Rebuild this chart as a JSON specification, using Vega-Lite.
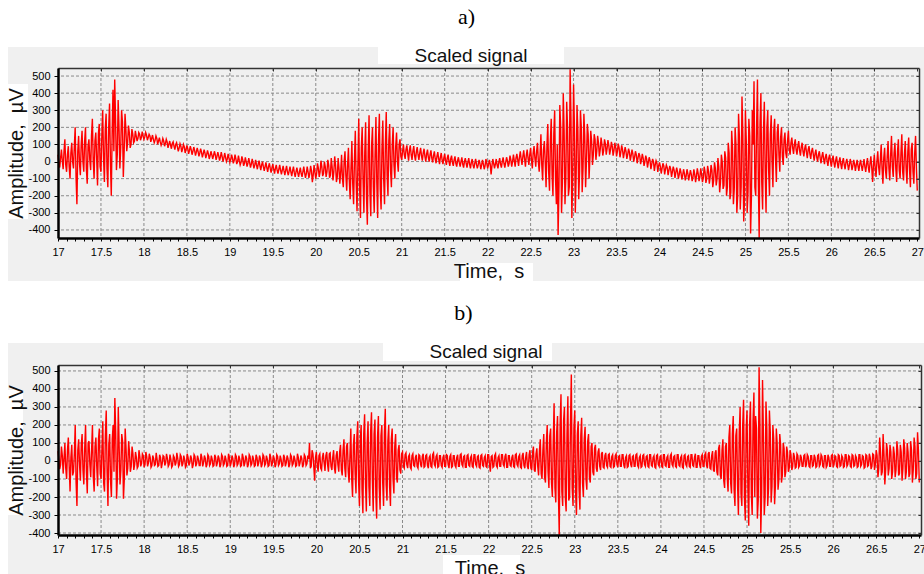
{
"$schema": "https://vega.github.io/schema/vega-lite/v6.json",
"background": "white",
"padding": {"left": 6, "top": 5, "right": 0, "bottom": 0},
"spacing": 20,
"config": {"font": "Liberation Sans", "view": {"stroke": null}, "axis": {"labelFont": "Liberation Sans", "labelFontSize": 11, "labelColor": "#000", "tickColor": "#000", "domainColor": "#000", "titleFont": "Liberation Sans", "titleFontSize": 20, "titleFontWeight": "normal", "titleColor": "#111", "grid": false}},
"data": {"values": "t,a,b\n17.00,40,55\n17.02,-35,-45\n17.04,70,80\n17.06,-45,-70\n17.08,130,100\n17.10,-60,-100\n17.12,90,130\n17.14,-100,-170\n17.16,110,90\n17.18,-40,-60\n17.20,200,200\n17.22,-250,-250\n17.24,150,120\n17.26,-80,-110\n17.28,180,150\n17.30,-60,-130\n17.32,200,200\n17.34,-130,-180\n17.36,130,110\n17.38,-50,-90\n17.40,250,200\n17.42,-100,-170\n17.44,170,130\n17.46,-140,-140\n17.48,220,180\n17.50,-60,-100\n17.52,300,220\n17.54,-120,-170\n17.56,280,280\n17.58,-150,-250\n17.60,340,150\n17.62,-200,-200\n17.64,420,200\n17.66,480,350\n17.68,-50,-210\n17.70,360,300\n17.72,-40,-130\n17.74,300,150\n17.76,-90,-210\n17.78,280,180\n17.80,60,-80\n17.82,210,110\n17.84,80,-60\n17.86,190,80\n17.88,110,-50\n17.90,180,50\n17.92,120,-40\n17.94,170,60\n17.96,125,-30\n17.98,175,40\n18.00,130,-35\n18.02,170,50\n18.04,125,-30\n18.06,160,40\n18.08,115,-35\n18.10,155,30\n18.12,110,-25\n18.14,150,45\n18.16,100,-30\n18.18,140,35\n18.20,95,-40\n18.22,135,30\n18.24,90,-25\n18.26,130,40\n18.28,80,-30\n18.30,120,35\n18.32,75,-35\n18.34,115,30\n18.36,70,-25\n18.38,110,45\n18.40,60,-30\n18.42,105,35\n18.44,55,-30\n18.46,100,30\n18.48,50,-35\n18.50,95,40\n18.52,45,-25\n18.54,90,30\n18.56,40,-40\n18.58,85,35\n18.60,35,-30\n18.62,80,30\n18.64,30,-25\n18.66,75,40\n18.68,25,-30\n18.70,70,30\n18.72,20,-35\n18.74,65,35\n18.76,15,-25\n18.78,60,30\n18.80,15,-30\n18.82,60,35\n18.84,10,-30\n18.86,55,30\n18.88,5,-35\n18.90,55,35\n18.92,0,-25\n18.94,50,30\n18.96,0,-30\n18.98,45,40\n19.00,-5,-30\n19.02,40,30\n19.04,-10,-35\n19.06,40,35\n19.08,-15,-25\n19.10,35,30\n19.12,-20,-30\n19.14,30,40\n19.16,-25,-30\n19.18,25,30\n19.20,-30,-35\n19.22,20,35\n19.24,-35,-25\n19.26,15,30\n19.28,-40,-30\n19.30,10,35\n19.32,-45,-30\n19.34,5,30\n19.36,-50,-35\n19.38,0,35\n19.40,-55,-25\n19.42,-5,30\n19.44,-60,-30\n19.46,-10,40\n19.48,-65,-30\n19.50,-15,30\n19.52,-70,-35\n19.54,-20,35\n19.56,-70,-25\n19.58,-20,30\n19.60,-75,-30\n19.62,-25,35\n19.64,-80,-30\n19.66,-25,30\n19.68,-80,-35\n19.70,-30,35\n19.72,-85,-25\n19.74,-30,30\n19.76,-90,-30\n19.78,-35,40\n19.80,-90,-30\n19.82,-35,30\n19.84,-90,-35\n19.86,-30,35\n19.88,-95,-25\n19.90,-30,30\n19.92,-95,100\n19.94,-25,-30\n19.96,-120,40\n19.98,-20,-110\n20.00,-100,50\n20.02,-10,-60\n20.04,-90,40\n20.06,5,-50\n20.08,-85,45\n20.10,0,-55\n20.12,-90,50\n20.14,10,-60\n20.16,-95,45\n20.18,20,-50\n20.20,-110,60\n20.22,30,-70\n20.24,-120,55\n20.26,20,-60\n20.28,-130,90\n20.30,40,-80\n20.32,-150,120\n20.34,60,-90\n20.36,-170,100\n20.38,80,-120\n20.40,-220,180\n20.42,120,-200\n20.44,-250,150\n20.46,180,-180\n20.48,-290,220\n20.50,250,-250\n20.52,-330,200\n20.54,200,-290\n20.56,-300,260\n20.58,230,-280\n20.60,-370,220\n20.62,270,-250\n20.64,-320,270\n20.66,200,-280\n20.68,-300,230\n20.70,260,-320\n20.72,-330,250\n20.74,280,-270\n20.76,-280,200\n20.78,240,-250\n20.80,-250,290\n20.82,290,-220\n20.84,-200,200\n20.86,220,-250\n20.88,-150,180\n20.90,200,-180\n20.92,-100,150\n20.94,170,-120\n20.96,-60,90\n20.98,130,-70\n21.00,10,50\n21.02,100,-40\n21.04,15,45\n21.06,95,-40\n21.08,5,35\n21.10,95,-45\n21.12,10,40\n21.14,90,-30\n21.16,5,35\n21.18,85,-40\n21.20,10,30\n21.22,80,-35\n21.24,5,40\n21.26,75,-30\n21.28,0,35\n21.30,70,-40\n21.32,0,30\n21.34,65,-35\n21.36,-5,45\n21.38,60,-30\n21.40,-10,35\n21.42,55,-30\n21.44,-15,30\n21.46,50,-35\n21.48,-15,35\n21.50,45,-30\n21.52,-20,30\n21.54,40,-40\n21.56,-25,35\n21.58,35,-30\n21.60,-25,30\n21.62,30,-35\n21.64,-30,35\n21.66,25,-30\n21.68,-30,40\n21.70,25,-30\n21.72,-35,30\n21.74,20,-35\n21.76,-35,35\n21.78,20,-30\n21.80,-40,30\n21.82,15,-35\n21.84,-40,35\n21.86,15,-30\n21.88,-40,30\n21.90,10,-40\n21.92,-45,35\n21.94,10,-30\n21.96,-45,30\n21.98,15,-35\n22.00,-40,35\n22.02,10,-60\n22.04,-75,30\n22.06,15,-30\n22.08,-40,40\n22.10,15,-35\n22.12,-40,30\n22.14,20,-30\n22.16,-35,35\n22.18,25,-30\n22.20,-35,40\n22.22,25,-35\n22.24,-30,30\n22.26,35,-30\n22.28,-30,35\n22.30,40,-35\n22.32,-30,40\n22.34,45,-30\n22.36,-25,35\n22.38,60,-40\n22.40,-20,45\n22.42,65,-40\n22.44,-30,50\n22.46,70,-45\n22.48,-20,60\n22.50,80,-50\n22.52,-40,80\n22.54,90,-60\n22.56,-30,70\n22.58,110,-80\n22.60,-60,120\n22.62,160,-100\n22.64,-110,150\n22.66,120,-120\n22.68,-150,200\n22.70,220,-150\n22.72,-170,180\n22.74,250,-200\n22.76,-200,320\n22.78,300,-230\n22.80,-250,250\n22.82,-430,-410\n22.84,330,370\n22.86,-300,-250\n22.88,400,300\n22.90,-250,-280\n22.92,350,360\n22.94,-200,-200\n22.96,540,480\n22.98,-330,-250\n23.00,450,280\n23.02,-300,-300\n23.04,330,220\n23.06,-220,-270\n23.08,300,240\n23.10,-180,-200\n23.12,280,190\n23.14,-150,-160\n23.16,220,150\n23.18,-100,-120\n23.20,180,100\n23.22,-20,-80\n23.24,160,90\n23.26,10,-60\n23.28,150,70\n23.30,30,-50\n23.32,140,50\n23.34,35,-40\n23.36,130,45\n23.38,40,-35\n23.40,125,40\n23.42,40,-35\n23.44,115,35\n23.46,35,-30\n23.48,110,40\n23.50,30,-35\n23.52,105,30\n23.54,25,-30\n23.56,95,35\n23.58,20,-40\n23.60,85,30\n23.62,15,-30\n23.64,75,35\n23.66,5,-35\n23.68,70,30\n23.70,0,-30\n23.72,60,40\n23.74,-10,-35\n23.76,50,30\n23.78,-15,-30\n23.80,45,35\n23.82,-25,-30\n23.84,35,30\n23.86,-35,-35\n23.88,25,35\n23.90,-45,-30\n23.92,15,30\n23.94,-55,-40\n23.96,5,35\n23.98,-60,-30\n24.00,-5,30\n24.02,-70,-35\n24.04,-10,35\n24.06,-75,-30\n24.08,-20,30\n24.10,-80,-35\n24.12,-25,40\n24.14,-90,-30\n24.16,-30,30\n24.18,-95,-35\n24.20,-35,35\n24.22,-100,-30\n24.24,-40,30\n24.26,-105,-40\n24.28,-45,35\n24.30,-110,-30\n24.32,-45,30\n24.34,-110,-35\n24.36,-50,35\n24.38,-115,-30\n24.40,-45,40\n24.42,-120,-35\n24.44,-40,30\n24.46,-115,-40\n24.48,-40,35\n24.50,-120,-30\n24.52,-30,45\n24.54,-125,-40\n24.56,-25,50\n24.58,-130,-45\n24.60,-20,55\n24.62,-150,-60\n24.64,-5,60\n24.66,-140,-80\n24.68,20,90\n24.70,-180,-100\n24.72,40,120\n24.74,-160,-150\n24.76,60,100\n24.78,-200,-170\n24.80,110,200\n24.82,-220,-180\n24.84,180,250\n24.86,-250,-250\n24.88,200,180\n24.90,-300,-300\n24.92,280,300\n24.94,-280,-250\n24.96,380,340\n24.98,-350,-330\n25.00,300,280\n25.02,-300,-360\n25.04,250,330\n25.06,-420,-300\n25.08,300,380\n25.10,470,250\n25.12,-200,-320\n25.14,480,520\n25.16,-450,-400\n25.18,400,450\n25.20,-280,-300\n25.22,350,330\n25.24,-300,-250\n25.26,300,280\n25.28,-200,-230\n25.30,270,200\n25.32,-150,-240\n25.34,250,180\n25.36,-120,-160\n25.38,220,150\n25.40,-60,-120\n25.42,200,100\n25.44,-20,-90\n25.46,170,80\n25.48,20,-60\n25.50,180,60\n25.52,40,-50\n25.54,140,45\n25.56,45,-40\n25.58,130,40\n25.60,40,-35\n25.62,120,35\n25.64,35,-30\n25.66,110,30\n25.68,30,-35\n25.70,100,35\n25.72,20,-30\n25.74,90,30\n25.76,15,-30\n25.78,80,35\n25.80,5,-35\n25.82,70,30\n25.84,0,-30\n25.86,60,35\n25.88,-10,-30\n25.90,55,30\n25.92,-15,-35\n25.94,45,35\n25.96,-25,-30\n25.98,40,30\n26.00,-30,-35\n26.02,35,30\n26.04,-35,-30\n26.06,30,35\n26.08,-40,-30\n26.10,25,30\n26.12,-45,-35\n26.14,20,35\n26.16,-45,-30\n26.18,15,30\n26.20,-50,-30\n26.22,15,35\n26.24,-50,-30\n26.26,10,30\n26.28,-55,-35\n26.30,10,35\n26.32,-55,-30\n26.34,10,30\n26.36,-55,-40\n26.38,15,35\n26.40,-60,-30\n26.42,20,40\n26.44,-65,-45\n26.46,30,40\n26.48,-120,-50\n26.50,40,60\n26.52,-90,-90\n26.54,60,130\n26.56,-80,-80\n26.58,100,150\n26.60,-130,-130\n26.62,80,100\n26.64,-100,-80\n26.66,120,90\n26.68,-110,-100\n26.70,150,80\n26.72,-90,-90\n26.74,110,110\n26.76,-120,-80\n26.78,130,90\n26.80,-100,-110\n26.82,160,120\n26.84,-110,-100\n26.86,120,100\n26.88,-130,-90\n26.90,140,110\n26.92,-150,-120\n26.94,110,130\n26.96,-130,-100\n26.98,150,160\n27.00,-170,-120\n17.01,-10,10\n17.03,20,-20\n17.05,5,30\n17.07,60,15\n17.09,-20,-40\n17.11,40,60\n17.13,-30,-30\n17.15,50,20\n17.17,0,-80\n17.19,90,40\n17.21,-90,-120\n17.23,60,60\n17.25,-10,-20\n17.27,100,90\n17.29,0,-50\n17.31,120,70\n17.33,-40,-60\n17.35,90,100\n17.37,10,-20\n17.39,150,60\n17.41,0,-90\n17.43,120,80\n17.45,20,-30\n17.47,160,120\n17.49,-30,-70\n17.51,150,60\n17.53,20,-120\n17.55,190,140\n17.57,-40,-60\n17.59,200,90\n17.61,0,-110\n17.63,160,120\n17.65,60,-60\n17.67,240,160\n17.69,40,-90\n17.71,200,80\n17.73,80,-50\n17.75,230,110\n17.77,60,-100\n17.79,190,70\n17.81,110,-40\n17.83,170,50\n17.85,100,-30\n17.87,160,40\n17.89,120,-20\n17.91,150,20\n17.93,135,-30\n17.95,160,25\n17.97,140,-15\n17.99,150,30\n18.01,145,-20\n18.03,155,25\n18.05,140,-10\n18.07,150,20\n18.09,135,-25\n18.11,130,15\n18.13,125,-20\n18.15,135,10\n18.17,120,-25\n18.19,115,20\n18.21,110,-15\n18.23,120,25\n18.25,105,-10\n18.27,115,15\n18.29,100,-20\n18.31,95,10\n18.33,105,-25\n18.35,90,20\n18.37,100,-10\n18.39,85,15\n18.41,80,-20\n18.43,90,25\n18.45,75,-15\n18.47,85,10\n18.49,70,-25\n18.51,75,20\n18.53,65,-10\n18.55,70,15\n18.57,60,-20\n18.59,65,25\n18.61,55,-15\n18.63,60,10\n18.65,50,-25\n18.67,55,20\n18.69,45,-10\n18.71,50,15\n18.73,40,-20\n18.75,45,25\n18.77,35,-15\n18.79,40,10\n18.81,35,-25\n18.83,40,20\n18.85,30,-10\n18.87,35,15\n18.89,25,-20\n18.91,30,25\n18.93,20,-15\n18.95,25,10\n18.97,15,-25\n18.99,20,20\n19.01,10,-10\n19.03,20,15\n19.05,5,-20\n19.07,15,25\n19.09,0,-15\n19.11,5,10\n19.13,-5,-25\n19.15,10,20\n19.17,-10,-10\n19.19,0,15\n19.21,-10,-20\n19.23,-5,25\n19.25,-15,-15\n19.27,-10,10\n19.29,-20,-25\n19.31,-20,20\n19.33,-15,-10\n19.35,-25,15\n19.37,-20,-20\n19.39,-30,25\n19.41,-30,-15\n19.43,-35,10\n19.45,-30,-25\n19.47,-40,20\n19.49,-35,-10\n19.51,-45,15\n19.53,-40,-20\n19.55,-50,25\n19.57,-45,-15\n19.59,-50,10\n19.61,-50,-25\n19.63,-55,20\n19.65,-50,-10\n19.67,-60,15\n19.69,-55,-20\n19.71,-60,25\n19.73,-55,-15\n19.75,-65,10\n19.77,-60,-25\n19.79,-65,20\n19.81,-60,-10\n19.83,-70,15\n19.85,-60,-20\n19.87,-65,25\n19.89,-70,-15\n19.91,-60,10\n19.93,-70,-40\n19.95,-55,60\n19.97,-80,-30\n19.99,-60,20\n20.01,-70,-20\n20.03,-40,30\n20.05,-60,-40\n20.07,-30,20\n20.09,-70,-10\n20.11,-30,30\n20.13,-60,-20\n20.15,-20,40\n20.17,-80,-30\n20.19,-30,20\n20.21,-60,-40\n20.23,-20,30\n20.25,-90,-20\n20.27,-40,50\n20.29,-60,-50\n20.31,-100,60\n20.33,0,-40\n20.35,-80,80\n20.37,-20,-60\n20.39,-110,30\n20.41,-40,-100\n20.43,-130,90\n20.45,10,-70\n20.47,-120,130\n20.49,-20,-110\n20.51,-150,120\n20.53,80,-160\n20.55,-100,150\n20.57,50,-120\n20.59,-200,100\n20.61,60,-140\n20.63,-180,160\n20.65,100,-100\n20.67,-150,150\n20.69,40,-180\n20.71,-120,130\n20.73,120,-150\n20.75,-160,140\n20.77,70,-120\n20.79,-100,160\n20.81,100,-130\n20.83,-80,110\n20.85,120,-140\n20.87,-50,120\n20.89,100,-100\n20.91,-20,80\n20.93,90,-90\n20.95,0,60\n20.97,100,-50\n20.99,30,40\n21.01,60,-30\n21.03,40,35\n21.05,70,-20\n21.07,45,25\n21.09,65,-35\n21.11,40,30\n21.13,60,-25\n21.15,35,20\n21.17,55,-30\n21.19,40,35\n21.21,50,-20\n21.23,35,25\n21.25,50,-35\n21.27,30,30\n21.29,45,-25\n21.31,25,20\n21.33,40,-30\n21.35,20,35\n21.37,35,-20\n21.39,15,25\n21.41,30,-35\n21.43,15,30\n21.45,25,-25\n21.47,10,20\n21.49,20,-30\n21.51,5,35\n21.53,20,-20\n21.55,0,25\n21.57,15,-35\n21.59,-5,30\n21.61,10,-25\n21.63,-10,20\n21.65,5,-30\n21.67,-5,35\n21.69,0,-20\n21.71,-15,25\n21.73,0,-35\n21.75,-10,30\n21.77,-5,-25\n21.79,-15,20\n21.81,-5,-30\n21.83,-20,35\n21.85,-10,-20\n21.87,-15,25\n21.89,-20,-35\n21.91,-10,30\n21.93,-20,-25\n21.95,-15,20\n21.97,-25,-30\n21.99,-10,35\n22.01,-20,-20\n22.03,-15,25\n22.05,-25,-35\n22.07,-10,30\n22.09,-15,-25\n22.11,-20,20\n22.13,-5,-30\n22.15,-15,35\n22.17,0,-20\n22.19,-10,25\n22.21,-5,-35\n22.23,5,30\n22.25,-10,-25\n22.27,10,20\n22.29,0,-30\n22.31,5,35\n22.33,20,-20\n22.35,10,25\n22.37,25,-35\n22.39,15,30\n22.41,30,-25\n22.43,15,20\n22.45,35,-30\n22.47,20,35\n22.49,40,-40\n22.51,10,45\n22.53,50,-50\n22.55,20,40\n22.57,60,-30\n22.59,0,60\n22.61,40,-70\n22.63,-20,60\n22.65,70,-90\n22.67,0,100\n22.69,90,-60\n22.71,-60,140\n22.73,120,-120\n22.75,-80,100\n22.77,160,-150\n22.79,-100,160\n22.81,100,-180\n22.83,-150,200\n22.85,200,-170\n22.87,-120,220\n22.89,180,-200\n22.91,-100,150\n22.93,200,-220\n22.95,-150,200\n22.97,250,-150\n22.99,-100,180\n23.01,200,-180\n23.03,-80,150\n23.05,180,-160\n23.07,-60,140\n23.09,200,-120\n23.11,-40,120\n23.13,150,-100\n23.15,0,110\n23.17,160,-90\n23.19,20,80\n23.21,120,-60\n23.23,40,70\n23.25,130,-40\n23.27,60,50\n23.29,110,-30\n23.31,70,40\n23.33,100,-35\n23.35,65,30\n23.37,105,-25\n23.39,75,35\n23.41,95,-30\n23.43,70,25\n23.45,90,-35\n23.47,65,30\n23.49,85,-20\n23.51,60,25\n23.53,80,-30\n23.55,55,35\n23.57,70,-25\n23.59,50,20\n23.61,60,-35\n23.63,40,30\n23.65,55,-20\n23.67,35,25\n23.69,45,-30\n23.71,25,35\n23.73,40,-25\n23.75,20,20\n23.77,35,-35\n23.79,10,30\n23.81,20,-20\n23.83,0,25\n23.85,15,-30\n23.87,-5,35\n23.89,5,-25\n23.91,-15,20\n23.93,0,-35\n23.95,-20,30\n23.97,-10,-20\n23.99,-25,25\n24.01,-30,-30\n24.03,-40,35\n24.05,-25,-25\n24.07,-45,20\n24.09,-35,-35\n24.11,-50,30\n24.13,-45,-20\n24.15,-60,25\n24.17,-50,-30\n24.19,-65,35\n24.21,-60,-25\n24.23,-75,20\n24.25,-65,-35\n24.27,-80,30\n24.29,-70,-20\n24.31,-85,25\n24.33,-70,-30\n24.35,-80,35\n24.37,-75,-25\n24.39,-90,20\n24.41,-75,-35\n24.43,-85,30\n24.45,-70,-20\n24.47,-90,25\n24.49,-75,-30\n24.51,-95,35\n24.53,-60,-25\n24.55,-100,40\n24.57,-55,-40\n24.59,-90,30\n24.61,-50,-50\n24.63,-110,45\n24.65,-40,-60\n24.67,-100,70\n24.69,-30,-80\n24.71,-120,60\n24.73,0,-110\n24.75,-140,80\n24.77,20,-90\n24.79,-150,130\n24.81,50,-120\n24.83,-180,150\n24.85,80,-160\n24.87,-160,140\n24.89,100,-130\n24.91,-200,160\n24.93,140,-180\n24.95,-150,200\n24.97,160,-200\n24.99,-220,180\n25.01,120,-150\n25.03,-180,200\n25.05,150,-180\n25.07,-200,220\n25.09,100,-200\n25.11,-150,180\n25.13,200,-220\n25.15,-100,200\n25.17,220,-180\n25.19,-120,160\n25.21,180,-200\n25.23,-60,180\n25.25,200,-150\n25.27,-50,160\n25.29,160,-140\n25.31,0,120\n25.33,180,-130\n25.35,20,100\n25.37,170,-100\n25.39,40,90\n25.41,140,-80\n25.43,30,70\n25.45,130,-60\n25.47,50,50\n25.49,120,-40\n25.51,70,35\n25.53,110,-30\n25.55,80,25\n25.57,100,-35\n25.59,70,30\n25.61,90,-25\n25.63,65,20\n25.65,85,-30\n25.67,60,35\n25.69,75,-20\n25.71,55,25\n25.73,70,-35\n25.75,45,30\n25.77,60,-25\n25.79,40,20\n25.81,45,-30\n25.83,25,35\n25.85,40,-20\n25.87,20,25\n25.89,30,-35\n25.91,15,30\n25.93,25,-25\n25.95,5,20\n25.97,20,-30\n25.99,0,35\n26.01,10,-20\n26.03,-5,25\n26.05,5,-35\n26.07,-10,30\n26.09,0,-25\n26.11,-15,20\n26.13,0,-30\n26.15,-20,35\n26.17,-5,-20\n26.19,-15,25\n26.21,-20,-35\n26.23,-10,30\n26.25,-25,-25\n26.27,-15,20\n26.29,-20,-30\n26.31,-25,35\n26.33,-15,-20\n26.35,-25,25\n26.37,-20,-35\n26.39,-30,30\n26.41,-15,-25\n26.43,-30,20\n26.45,-10,-30\n26.47,-35,35\n26.49,-20,-20\n26.51,-40,30\n26.53,0,-40\n26.55,-30,50\n26.57,10,-60\n26.59,-40,40\n26.61,20,-50\n26.63,-50,60\n26.65,30,-40\n26.67,-40,50\n26.69,40,-60\n26.71,-30,40\n26.73,50,-50\n26.75,-40,60\n26.77,60,-70\n26.79,-50,50\n26.81,50,-40\n26.83,-60,70\n26.85,40,-60\n26.87,-40,50\n26.89,60,-70\n26.91,-50,60\n26.93,70,-50\n26.95,-60,80\n26.97,50,-70\n26.99,-40,60", "format": {"type": "csv", "parse": {"t": "number", "a": "number", "b": "number"}}},
"vconcat": [
{
 "width": 861, "height": 170,
 "title": {"text": "a)", "font": "Liberation Serif", "fontSize": 22, "fontWeight": "normal", "color": "#000", "anchor": "middle", "frame": "group", "dx": -22, "offset": 18},
 "resolve": {"axis": {"x": "independent", "y": "independent"}},
 "layer": [
  {"data": {"values": [{}]}, "mark": {"type": "rect", "fill": "#f0f0f0"},
   "encoding": {"x": {"datum": 16.418, "type": "quantitative", "scale": {"domain": [17, 27.02], "nice": false, "zero": false}, "axis": null}, "x2": {"datum": 27.08},
    "y": {"datum": 670, "type": "quantitative", "scale": {"domain": [-447, 547], "nice": false, "zero": false}, "axis": null}, "y2": {"datum": -698}}},
  {"data": {"values": [{}]}, "mark": {"type": "rect", "fill": "#ffffff"},
   "encoding": {"x": {"datum": 20.724, "type": "quantitative", "scale": {"domain": [17, 27.02], "nice": false, "zero": false}, "axis": null}, "x2": {"datum": 22.889},
    "y": {"datum": 670, "type": "quantitative", "scale": {"domain": [-447, 547], "nice": false, "zero": false}, "axis": null}, "y2": {"datum": 570}}},
  {"data": {"values": [{}]}, "mark": {"type": "rect", "fill": "#ffffff"},
   "encoding": {"x": {"datum": 16.418, "type": "quantitative", "scale": {"domain": [17, 27.02], "nice": false, "zero": false}, "axis": null}, "x2": {"datum": 16.651},
    "y": {"datum": 453, "type": "quantitative", "scale": {"domain": [-447, 547], "nice": false, "zero": false}, "axis": null}, "y2": {"datum": -336}}},
  {"data": {"values": [{}]}, "mark": {"type": "rect", "fill": "#ffffff"},
   "encoding": {"x": {"datum": 21.678, "type": "quantitative", "scale": {"domain": [17, 27.02], "nice": false, "zero": false}, "axis": null}, "x2": {"datum": 22.528},
    "y": {"datum": -593, "type": "quantitative", "scale": {"domain": [-447, 547], "nice": false, "zero": false}, "axis": null}, "y2": {"datum": -698}}},
  {"data": {"values": [{"g": 17.5}, {"g": 18}, {"g": 18.5}, {"g": 19}, {"g": 19.5}, {"g": 20}, {"g": 20.5}, {"g": 21}, {"g": 21.5}, {"g": 22}, {"g": 22.5}, {"g": 23}, {"g": 23.5}, {"g": 24}, {"g": 24.5}, {"g": 25}, {"g": 25.5}, {"g": 26}, {"g": 26.5}]},
   "mark": {"type": "rule", "stroke": "#8a8a8a", "strokeWidth": 1, "strokeDash": [3, 2]},
   "encoding": {"x": {"field": "g", "type": "quantitative", "scale": {"domain": [17, 27.02], "nice": false, "zero": false},
     "axis": {"orient": "top", "zindex": 1, "values": [17, 17.5, 18, 18.5, 19, 19.5, 20, 20.5, 21, 21.5, 22, 22.5, 23, 23.5, 24, 24.5, 25, 25.5, 26, 26.5, 27], "labels": false, "title": null, "tickSize": -3, "tickColor": "#333", "domainColor": "#333", "domainWidth": 1.5}}}},
  {"data": {"values": [{"g": -400}, {"g": -300}, {"g": -200}, {"g": -100}, {"g": 0}, {"g": 100}, {"g": 200}, {"g": 300}, {"g": 400}, {"g": 500}]},
   "mark": {"type": "rule", "stroke": "#8a8a8a", "strokeWidth": 1, "strokeDash": [3, 2]},
   "encoding": {"y": {"field": "g", "type": "quantitative", "scale": {"domain": [-447, 547], "nice": false, "zero": false},
     "axis": {"orient": "right", "zindex": 1, "values": [-400, -300, -200, -100, 0, 100, 200, 300, 400, 500], "labels": false, "title": null, "tickSize": -3, "tickColor": "#333", "domainColor": "#333", "domainWidth": 1.5}}}},
  {"mark": {"type": "line", "stroke": "#ff0000", "strokeWidth": 1.4},
   "encoding": {
    "x": {"field": "t", "type": "quantitative", "scale": {"domain": [17, 27.02], "nice": false, "zero": false},
     "axis": {"orient": "bottom", "zindex": 1, "title": "Time,\u00a0 s", "titlePadding": 4, "values": [17, 17.1, 17.2, 17.3, 17.4, 17.5, 17.6, 17.7, 17.8, 17.9, 18, 18.1, 18.2, 18.3, 18.4, 18.5, 18.6, 18.7, 18.8, 18.9, 19, 19.1, 19.2, 19.3, 19.4, 19.5, 19.6, 19.7, 19.8, 19.9, 20, 20.1, 20.2, 20.3, 20.4, 20.5, 20.6, 20.7, 20.8, 20.9, 21, 21.1, 21.2, 21.3, 21.4, 21.5, 21.6, 21.7, 21.8, 21.9, 22, 22.1, 22.2, 22.3, 22.4, 22.5, 22.6, 22.7, 22.8, 22.9, 23, 23.1, 23.2, 23.3, 23.4, 23.5, 23.6, 23.7, 23.8, 23.9, 24, 24.1, 24.2, 24.3, 24.4, 24.5, 24.6, 24.7, 24.8, 24.9, 25, 25.1, 25.2, 25.3, 25.4, 25.5, 25.6, 25.7, 25.8, 25.9, 26, 26.1, 26.2, 26.3, 26.4, 26.5, 26.6, 26.7, 26.8, 26.9, 27],
      "labelExpr": "abs(datum.value * 2 - round(datum.value * 2)) < 0.01 ? toString(round(datum.value * 2) / 2) : ''", "labelOverlap": false, "labelFlush": false, "labelPadding": 5, "tickSize": 3, "domainWidth": 2.5}},
    "y": {"field": "a", "type": "quantitative", "scale": {"domain": [-447, 547], "nice": false, "zero": false},
     "axis": {"orient": "left", "zindex": 1, "title": "Amplitude,\u00a0 µV", "titlePadding": 1, "values": [-400, -300, -200, -100, 0, 100, 200, 300, 400, 500], "labelExpr": "toString(datum.value)", "labelOverlap": false, "labelFlush": false, "labelPadding": 4, "tickSize": 4, "domainWidth": 2.5}}}},
  {"data": {"values": [{"label": "Scaled signal"}]}, "mark": {"type": "text", "font": "Liberation Sans", "fontSize": 19, "color": "#111", "align": "center", "baseline": "alphabetic"},
   "encoding": {"text": {"field": "label"}, "x": {"datum": 21.806, "type": "quantitative", "scale": {"domain": [17, 27.02], "nice": false, "zero": false}, "axis": null},
    "y": {"datum": 582, "type": "quantitative", "scale": {"domain": [-447, 547], "nice": false, "zero": false}, "axis": null}}}
 ]
},
{
 "width": 863, "height": 170,
 "title": {"text": "b)", "font": "Liberation Serif", "fontSize": 22, "fontWeight": "normal", "color": "#000", "anchor": "middle", "frame": "group", "dx": -26, "offset": 18},
 "resolve": {"axis": {"x": "independent", "y": "independent"}},
 "layer": [
  {"data": {"values": [{}]}, "mark": {"type": "rect", "fill": "#f0f0f0"},
   "encoding": {"x": {"datum": 16.4195, "type": "quantitative", "scale": {"domain": [17, 27.02], "nice": false, "zero": false}, "axis": null}, "x2": {"datum": 27.08},
    "y": {"datum": 655, "type": "quantitative", "scale": {"domain": [-411, 533], "nice": false, "zero": false}, "axis": null}, "y2": {"datum": -628}}},
  {"data": {"values": [{}]}, "mark": {"type": "rect", "fill": "#ffffff"},
   "encoding": {"x": {"datum": 20.773, "type": "quantitative", "scale": {"domain": [17, 27.02], "nice": false, "zero": false}, "axis": null}, "x2": {"datum": 22.736},
    "y": {"datum": 655, "type": "quantitative", "scale": {"domain": [-411, 533], "nice": false, "zero": false}, "axis": null}, "y2": {"datum": 555}}},
  {"data": {"values": [{}]}, "mark": {"type": "rect", "fill": "#ffffff"},
   "encoding": {"x": {"datum": 16.4195, "type": "quantitative", "scale": {"domain": [17, 27.02], "nice": false, "zero": false}, "axis": null}, "x2": {"datum": 16.594},
    "y": {"datum": 394, "type": "quantitative", "scale": {"domain": [-411, 533], "nice": false, "zero": false}, "axis": null}, "y2": {"datum": -300}}},
  {"data": {"values": [{}]}, "mark": {"type": "rect", "fill": "#ffffff"},
   "encoding": {"x": {"datum": 21.47, "type": "quantitative", "scale": {"domain": [17, 27.02], "nice": false, "zero": false}, "axis": null}, "x2": {"datum": 22.364},
    "y": {"datum": -522, "type": "quantitative", "scale": {"domain": [-411, 533], "nice": false, "zero": false}, "axis": null}, "y2": {"datum": -628}}},
  {"data": {"values": [{"g": 17.5}, {"g": 18}, {"g": 18.5}, {"g": 19}, {"g": 19.5}, {"g": 20}, {"g": 20.5}, {"g": 21}, {"g": 21.5}, {"g": 22}, {"g": 22.5}, {"g": 23}, {"g": 23.5}, {"g": 24}, {"g": 24.5}, {"g": 25}, {"g": 25.5}, {"g": 26}, {"g": 26.5}]},
   "mark": {"type": "rule", "stroke": "#8a8a8a", "strokeWidth": 1, "strokeDash": [3, 2]},
   "encoding": {"x": {"field": "g", "type": "quantitative", "scale": {"domain": [17, 27.02], "nice": false, "zero": false},
     "axis": {"orient": "top", "zindex": 1, "values": [17, 17.5, 18, 18.5, 19, 19.5, 20, 20.5, 21, 21.5, 22, 22.5, 23, 23.5, 24, 24.5, 25, 25.5, 26, 26.5, 27], "labels": false, "title": null, "tickSize": -3, "tickColor": "#333", "domainColor": "#333", "domainWidth": 1.5}}}},
  {"data": {"values": [{"g": -400}, {"g": -300}, {"g": -200}, {"g": -100}, {"g": 0}, {"g": 100}, {"g": 200}, {"g": 300}, {"g": 400}, {"g": 500}]},
   "mark": {"type": "rule", "stroke": "#8a8a8a", "strokeWidth": 1, "strokeDash": [3, 2]},
   "encoding": {"y": {"field": "g", "type": "quantitative", "scale": {"domain": [-411, 533], "nice": false, "zero": false},
     "axis": {"orient": "right", "zindex": 1, "values": [-400, -300, -200, -100, 0, 100, 200, 300, 400, 500], "labels": false, "title": null, "tickSize": -3, "tickColor": "#333", "domainColor": "#333", "domainWidth": 1.5}}}},
  {"mark": {"type": "line", "stroke": "#ff0000", "strokeWidth": 1.4},
   "encoding": {
    "x": {"field": "t", "type": "quantitative", "scale": {"domain": [17, 27.02], "nice": false, "zero": false},
     "axis": {"orient": "bottom", "zindex": 1, "title": "Time,\u00a0 s", "titlePadding": 4, "values": [17, 17.1, 17.2, 17.3, 17.4, 17.5, 17.6, 17.7, 17.8, 17.9, 18, 18.1, 18.2, 18.3, 18.4, 18.5, 18.6, 18.7, 18.8, 18.9, 19, 19.1, 19.2, 19.3, 19.4, 19.5, 19.6, 19.7, 19.8, 19.9, 20, 20.1, 20.2, 20.3, 20.4, 20.5, 20.6, 20.7, 20.8, 20.9, 21, 21.1, 21.2, 21.3, 21.4, 21.5, 21.6, 21.7, 21.8, 21.9, 22, 22.1, 22.2, 22.3, 22.4, 22.5, 22.6, 22.7, 22.8, 22.9, 23, 23.1, 23.2, 23.3, 23.4, 23.5, 23.6, 23.7, 23.8, 23.9, 24, 24.1, 24.2, 24.3, 24.4, 24.5, 24.6, 24.7, 24.8, 24.9, 25, 25.1, 25.2, 25.3, 25.4, 25.5, 25.6, 25.7, 25.8, 25.9, 26, 26.1, 26.2, 26.3, 26.4, 26.5, 26.6, 26.7, 26.8, 26.9, 27],
      "labelExpr": "abs(datum.value * 2 - round(datum.value * 2)) < 0.01 ? toString(round(datum.value * 2) / 2) : ''", "labelOverlap": false, "labelFlush": false, "labelPadding": 5, "tickSize": 3, "domainWidth": 2.5}},
    "y": {"field": "b", "type": "quantitative", "scale": {"domain": [-411, 533], "nice": false, "zero": false},
     "axis": {"orient": "left", "zindex": 1, "title": "Amplitude,\u00a0 µV", "titlePadding": 1, "values": [-400, -300, -200, -100, 0, 100, 200, 300, 400, 500], "labelExpr": "toString(datum.value)", "labelOverlap": false, "labelFlush": false, "labelPadding": 4, "tickSize": 4, "domainWidth": 2.5}}}},
  {"data": {"values": [{"label": "Scaled signal"}]}, "mark": {"type": "text", "font": "Liberation Sans", "fontSize": 19, "color": "#111", "align": "center", "baseline": "alphabetic"},
   "encoding": {"text": {"field": "label"}, "x": {"datum": 21.969, "type": "quantitative", "scale": {"domain": [17, 27.02], "nice": false, "zero": false}, "axis": null},
    "y": {"datum": 572, "type": "quantitative", "scale": {"domain": [-411, 533], "nice": false, "zero": false}, "axis": null}}}
 ]
}
]
}
